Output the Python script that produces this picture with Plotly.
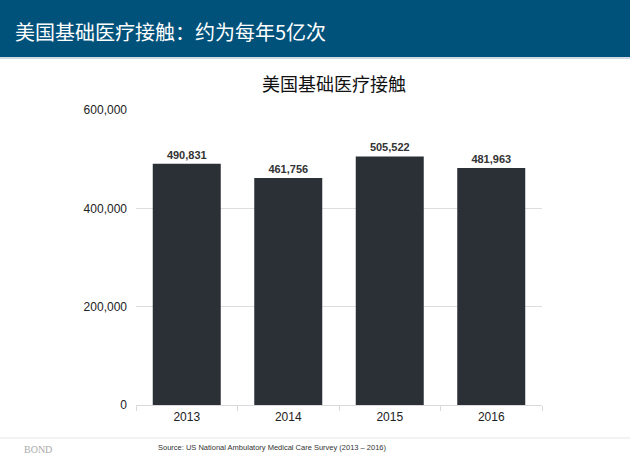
import plotly.graph_objects as go

years = ["2013", "2014", "2015", "2016"]
visits = [490831, 461756, 505522, 481963]
tick_vals = [0, 200000, 400000, 600000]
tick_text = ["0", "200,000", "400,000", "600,000"]

W, H = 630, 470
L, R, T, B = 136, 88, 110, 65
pw, ph = W - L - R, H - T - B

def px(x):
    return (x - L) / pw

def py(y):
    return (H - B - y) / ph

fig = go.Figure()
fig.add_trace(go.Bar(
    x=years, y=visits,
    marker=dict(color="#2b3036", line=dict(width=0)),
    text=[f"<b>{v:,}</b>" for v in visits],
    textposition="outside",
    textfont=dict(family="Liberation Sans, Arial", size=11, color="#333333"),
    cliponaxis=False,
    width=0.67,
))

fig.update_layout(
    width=W, height=H,
    margin=dict(l=L, r=R, t=T, b=B),
    plot_bgcolor="white", paper_bgcolor="white",
    showlegend=False,
    font=dict(family="Liberation Sans, Arial", color="#222222"),
    yaxis=dict(range=[0, 600000], tickvals=tick_vals, ticktext=tick_text,
               showgrid=True, gridcolor="#dedede", gridwidth=1,
               zeroline=False, showline=False, ticks="",
               tickfont=dict(size=12, color="#222222"), ticklabelstandoff=8),
    xaxis=dict(showline=True, linecolor="#d9d9d9", linewidth=1,
               ticks="outside", tickcolor="#d9d9d9", ticklen=5,
               tickson="boundaries", ticklabelstandoff=1,
               tickfont=dict(size=12, color="#222222")),
    shapes=[
        dict(type="rect", xref="paper", yref="paper",
             x0=px(0), x1=px(W), y0=py(57), y1=py(0),
             fillcolor="#00527b", line=dict(width=0), layer="below"),
        dict(type="line", xref="paper", yref="paper",
             x0=px(0), x1=px(W), y0=py(58), y1=py(58),
             line=dict(color="#9fb8c8", width=1)),
        dict(type="line", xref="paper", yref="paper",
             x0=px(0), x1=px(W), y0=py(438), y1=py(438),
             line=dict(color="#e6e6e6", width=1)),
    ],
    annotations=[
        dict(text="美国基础医疗接触：约为每年5亿次", xref="paper", yref="paper",
             x=px(13), y=py(32), xanchor="left", yanchor="middle",
             showarrow=False,
             font=dict(family="Noto Sans CJK SC", size=20, color="white")),
        dict(text="美国基础医疗接触", xref="paper", yref="paper",
             x=px(334), y=py(83), xanchor="center", yanchor="middle",
             showarrow=False,
             font=dict(family="Noto Sans CJK SC", size=18, color="#111111")),
        dict(text="BOND", xref="paper", yref="paper",
             x=px(22), y=py(449), xanchor="left", yanchor="middle",
             showarrow=False,
             font=dict(family="Liberation Serif, Times New Roman", size=10, color="#aaaaaa")),
        dict(text="Source: US National Ambulatory Medical Care Survey (2013 – 2016)",
             xref="paper", yref="paper",
             x=px(272), y=py(447), xanchor="center", yanchor="middle",
             showarrow=False,
             font=dict(family="Liberation Sans, Arial", size=7.5, color="#333333")),
    ],
)

fig.write_html("out.html")
